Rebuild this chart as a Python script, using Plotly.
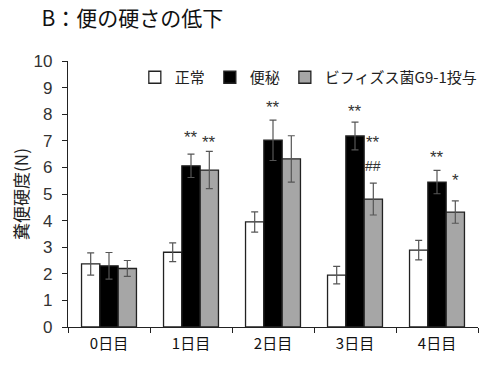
import plotly.graph_objects as go

days = ["0日目", "1日目", "2日目", "3日目", "4日目"]
series_names = ["正常", "便秘", "ビフィズス菌G9-1投与"]
normal = [2.37, 2.81, 3.95, 1.95, 2.89]
normal_err = [0.42, 0.35, 0.38, 0.33, 0.37]
constip = [2.30, 6.06, 7.02, 7.18, 5.45]
constip_err = [0.50, 0.44, 0.76, 0.52, 0.44]
bifido = [2.20, 5.90, 6.32, 4.81, 4.32]
bifido_err = [0.30, 0.70, 0.87, 0.60, 0.42]

# significance marks: (day index, series index, text, y value)
marks_day = [1, 1, 2, 3, 3, 3, 4, 4]
marks_series = [1, 2, 1, 1, 2, 2, 1, 2]
marks_text = ["**", "**", "**", "**", "**", "##", "**", "*"]
marks_y = [7.14, 6.95, 8.27, 8.12, 6.95, 6.05, 6.39, 5.49]

FONT = "Liberation Sans, Arial, Noto Sans CJK JP"
CJK = "Noto Sans CJK JP, Liberation Sans"

fig = go.Figure()
fills = ["#ffffff", "#000000", "#a6a6a6"]
vals = [normal, constip, bifido]
errs = [normal_err, constip_err, bifido_err]
for name, v, e, c in zip(series_names, vals, errs, fills):
    fig.add_trace(go.Bar(
        x=days, y=v, name=name,
        marker=dict(color=c, line=dict(color="#222222", width=1.3)),
        error_y=dict(type="data", array=e, visible=True, color="#555555",
                     thickness=1.2, width=3.5),
    ))

offsets = [-1, 0, 1]
bw = (1 - 0.33) / 3
for d, s, t, y in zip(marks_day, marks_series, marks_text, marks_y):
    fig.add_annotation(
        x=d + offsets[s] * bw, y=y, xref="x", yref="y", text=t,
        showarrow=False, font=dict(family=FONT, size=17 if t != "##" else 14, color="#333333"),
        yanchor="middle",
    )

fig.update_layout(
    width=487, height=368,
    margin=dict(l=68, r=9, t=61, b=41, autoexpand=False),
    paper_bgcolor="white", plot_bgcolor="white",
    barmode="group", bargap=0.33, bargroupgap=0,
    showlegend=True,
    legend=dict(orientation="h", x=0.163, y=1.0, xanchor="left", yanchor="top",
                font=dict(family=CJK, size=15, color="#222222"),
                bgcolor="rgba(0,0,0,0)", itemwidth=30, tracegroupgap=0),
    title=dict(text="B：便の硬さの低下", x=0.085, xanchor="left", y=0.948, yanchor="middle",
               font=dict(family="Noto Sans CJK JP", size=21, color="#111111")),
    xaxis=dict(type="category", showline=True, linecolor="#222222", linewidth=1.2,
               ticks="outside", tickson="boundaries", ticklen=5, tickcolor="#222222",
               ticklabelstandoff=3,
               tickfont=dict(family=CJK, size=15, color="#111111"), showgrid=False),
    yaxis=dict(range=[0, 10], dtick=1, showline=True, linecolor="#222222", linewidth=1.2,
               ticks="outside", ticklen=5, tickcolor="#222222", showgrid=False, zeroline=False,
               ticklabelstandoff=6,
               tickfont=dict(family=FONT, size=17, color="#333333"),
               title=dict(text="糞便硬度(N)", font=dict(family=CJK, size=17, color="#222222"),
                          standoff=0)),
)

fig.write_html("out.html", config={"displayModeBar": False},
               post_script="document.body.style.margin='0px';document.body.style.overflow='hidden';")
